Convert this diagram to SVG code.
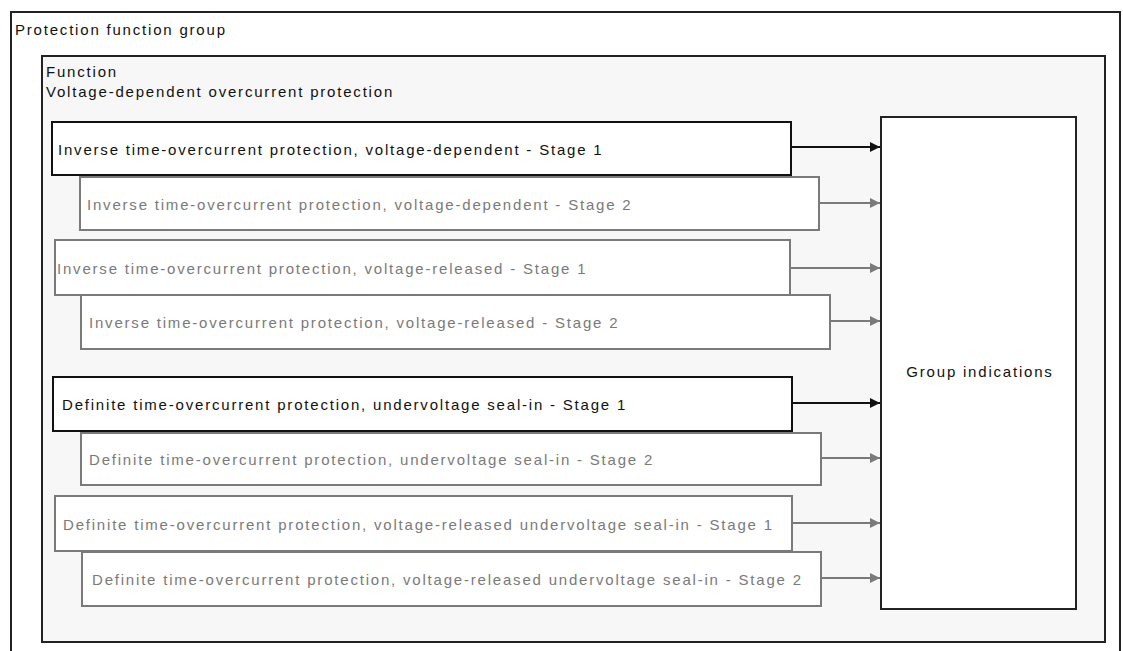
<svg xmlns="http://www.w3.org/2000/svg" width="1123" height="651" viewBox="0 0 1123 651">
  <style>
    text { font-family: "Liberation Sans", Arial, sans-serif; font-size: 15px; letter-spacing: 1.8px; fill: #111; }
    .container { fill: none; stroke: #222; stroke-width: 2; }
    .func { fill: #f7f7f7; stroke: #222; stroke-width: 2; }
    .active { fill: #ffffff; stroke: #111; stroke-width: 2; }
    .inactive { fill: #ffffff; stroke: #7a7a7a; stroke-width: 2; }
    .inactive-text { fill: #7a7a7a; }
    .target { fill: #ffffff; stroke: #222; stroke-width: 2; }
    .conn-active { stroke: #111; stroke-width: 2; fill: none; }
    .conn-inactive { stroke: #7a7a7a; stroke-width: 2; fill: none; }
  </style>
  <defs>
    <marker id="arrow-active" markerUnits="userSpaceOnUse" markerWidth="10" markerHeight="10" refX="10" refY="5" orient="auto">
      <path d="M0,0 L10,5 L0,10 z" fill="#111"/>
    </marker>
    <marker id="arrow-inactive" markerUnits="userSpaceOnUse" markerWidth="10" markerHeight="10" refX="10" refY="5" orient="auto">
      <path d="M0,0 L10,5 L0,10 z" fill="#7a7a7a"/>
    </marker>
  </defs>

  <rect width="1123" height="651" fill="#ffffff"/>

  <g id="protection-function-group">
    <rect class="container" x="11" y="12" width="1109" height="660"/>
    <text x="15" y="35">Protection function group</text>
  </g>

  <g id="function">
    <rect class="func" x="42" y="56" width="1063" height="586"/>
    <text x="46" y="77">Function</text>
    <text x="46" y="97">Voltage-dependent overcurrent protection</text>
  </g>

  <g id="stage-1">
    <rect class="active" x="52" y="122" width="739" height="53"/>
    <text x="58" y="155">Inverse time-overcurrent protection, voltage-dependent - Stage 1</text>
  </g>
  <g id="stage-2">
    <rect class="inactive" x="80" y="177" width="739" height="53"/>
    <text class="inactive-text" x="87" y="210">Inverse time-overcurrent protection, voltage-dependent - Stage 2</text>
  </g>
  <g id="stage-3">
    <rect class="inactive" x="55" y="240" width="735" height="55"/>
    <text class="inactive-text" x="57" y="274">Inverse time-overcurrent protection, voltage-released - Stage 1</text>
  </g>
  <g id="stage-4">
    <rect class="inactive" x="81" y="295" width="749" height="54"/>
    <text class="inactive-text" x="89" y="328">Inverse time-overcurrent protection, voltage-released - Stage 2</text>
  </g>
  <g id="stage-5">
    <rect class="active" x="53" y="377" width="739" height="54"/>
    <text x="62" y="410">Definite time-overcurrent protection, undervoltage seal-in - Stage 1</text>
  </g>
  <g id="stage-6">
    <rect class="inactive" x="81" y="433" width="740" height="52"/>
    <text class="inactive-text" x="89" y="465">Definite time-overcurrent protection, undervoltage seal-in - Stage 2</text>
  </g>
  <g id="stage-7">
    <rect class="inactive" x="55" y="496" width="737" height="55"/>
    <text class="inactive-text" x="63" y="530">Definite time-overcurrent protection, voltage-released undervoltage seal-in - Stage 1</text>
  </g>
  <g id="stage-8">
    <rect class="inactive" x="82" y="552" width="739" height="54"/>
    <text class="inactive-text" x="92" y="585">Definite time-overcurrent protection, voltage-released undervoltage seal-in - Stage 2</text>
  </g>

  <g id="group-indications">
    <rect class="target" x="881" y="117" width="195" height="492"/>
    <text x="980" y="377" text-anchor="middle">Group indications</text>
  </g>

  <g id="connectors">
    <line class="conn-active" x1="791" y1="147" x2="880" y2="147" marker-end="url(#arrow-active)"/>
    <line class="conn-inactive" x1="819" y1="203" x2="880" y2="203" marker-end="url(#arrow-inactive)"/>
    <line class="conn-inactive" x1="790" y1="268" x2="880" y2="268" marker-end="url(#arrow-inactive)"/>
    <line class="conn-inactive" x1="830" y1="321" x2="880" y2="321" marker-end="url(#arrow-inactive)"/>
    <line class="conn-active" x1="792" y1="403" x2="880" y2="403" marker-end="url(#arrow-active)"/>
    <line class="conn-inactive" x1="821" y1="458" x2="880" y2="458" marker-end="url(#arrow-inactive)"/>
    <line class="conn-inactive" x1="792" y1="523" x2="880" y2="523" marker-end="url(#arrow-inactive)"/>
    <line class="conn-inactive" x1="821" y1="578" x2="880" y2="578" marker-end="url(#arrow-inactive)"/>
  </g>
</svg>
